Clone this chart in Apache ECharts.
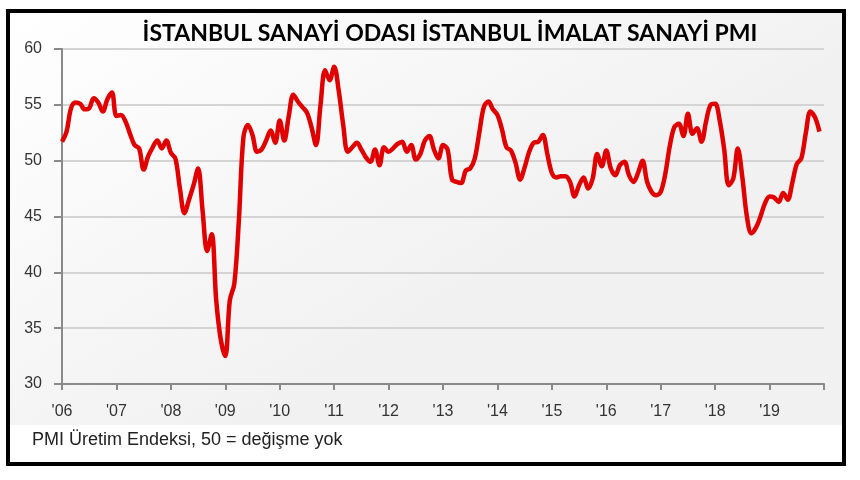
<!DOCTYPE html>
<html>
<head>
<meta charset="utf-8">
<script src="https://cdn.jsdelivr.net/npm/echarts@6/dist/echarts.min.js"></script>
<style>
  html, body { margin: 0; padding: 0; background: #fff; }
  #chart { width: 860px; height: 480px; }
</style>
</head>
<body>
<div id="chart"></div>
<script>
// Değerler (aylık, Ocak 2006 - Aralık 2019)
var yillar = ["'06", "'07", "'08", "'09", "'10", "'11", "'12", "'13", "'14", "'15", "'16", "'17", "'18", "'19"];

var pmi2006 = [51.7, 52.6, 54.7, 55.2, 55.1, 54.6, 54.7, 55.6, 55.2, 54.4, 55.5, 56.1];
var pmi2007 = [54.0, 54.1, 53.5, 52.4, 51.4, 51.1, 49.2, 50.4, 51.2, 51.8, 51.1, 51.8];
var pmi2008 = [50.7, 50.2, 47.5, 45.3, 46.5, 47.8, 49.3, 45.5, 41.9, 43.4, 37.5, 34.0];
var pmi2009 = [32.5, 37.5, 39.0, 44.7, 52.1, 53.2, 52.3, 50.8, 51.0, 51.8, 52.7, 51.6];
var pmi2010 = [53.6, 51.8, 54.0, 55.9, 55.3, 54.8, 54.3, 53.0, 51.4, 55.0, 58.1, 57.2];
var pmi2011 = [58.4, 56.3, 53.2, 50.8, 51.2, 51.6, 51.0, 50.3, 49.9, 51.0, 49.6, 51.2];
var pmi2012 = [50.8, 51.1, 51.5, 51.7, 50.8, 51.4, 50.1, 50.6, 51.8, 52.2, 51.0, 50.2];
var pmi2013 = [51.4, 51.0, 48.3, 48.1, 48.0, 49.1, 49.3, 50.2, 52.5, 54.8, 55.3, 54.6];
var pmi2014 = [54.1, 52.8, 51.2, 50.9, 49.8, 48.3, 49.4, 50.8, 51.6, 51.7, 52.3, 50.6];
var pmi2015 = [48.9, 48.5, 48.6, 48.6, 48.1, 46.8, 47.8, 48.5, 47.5, 48.4, 50.6, 49.5];
var pmi2016 = [50.9, 49.3, 48.7, 49.6, 49.9, 48.7, 48.1, 48.9, 50.0, 48.1, 47.2, 46.9];
var pmi2017 = [47.2, 48.8, 51.3, 53.0, 53.3, 52.2, 54.2, 52.4, 52.9, 51.7, 53.5, 55.0];
var pmi2018 = [55.1, 53.6, 51.0, 47.8, 48.4, 51.1, 48.5, 45.0, 43.5, 44.0, 45.0, 46.2];
var pmi2019 = [46.8, 46.7, 46.3, 47.1, 46.5, 48.0, 49.7, 50.2, 52.5, 54.4, 53.9, 52.6];

var yTicks = [30, 35, 40, 45, 50, 55, 60];

var baslik = 'İSTANBUL SANAYİ ODASI İSTANBUL İMALAT SANAYİ PMI';
var dipnot = 'PMI Üretim Endeksi, 50 = değişme yok';

// seriyi birleştir
var pmi = [].concat(pmi2006, pmi2007, pmi2008, pmi2009, pmi2010, pmi2011, pmi2012,
  pmi2013, pmi2014, pmi2015, pmi2016, pmi2017, pmi2018, pmi2019);

// kategori: her ay bir nokta, sonda Ocak 2020 (etiketsiz) için bir boşluk
var aylar = [];
for (var i = 0; i <= pmi.length; i++) {
  aylar.push(i % 12 === 0 ? (yillar[i / 12] || '') : '');
}

var myChart = echarts.init(document.getElementById('chart'));

var option = {
  animation: false,
  backgroundColor: '#ffffff',
  title: {
    text: baslik,
    left: 445,
    textAlign: 'center',
    top: 17,
    textStyle: {
      fontFamily: 'Lato',
      fontWeight: 'bold',
      fontSize: 23,
      color: '#000'
    }
  },
  graphic: [
    {
      type: 'rect',
      z: -10,
      shape: { x: 9, y: 13, width: 834, height: 412 },
      style: {
        fill: new echarts.graphic.LinearGradient(0, 0, 0.3, 1, [
          { offset: 0, color: '#ffffff' },
          { offset: 1, color: '#f1f1f1' }
        ])
      }
    },
    {
      type: 'text',
      left: 32,
      top: 431,
      style: {
        text: dipnot,
        fontFamily: 'Liberation Sans',
        fontSize: 18,
        fill: '#222'
      }
    },
    {
      type: 'rect',
      z: 100,
      shape: { x: 8, y: 11, width: 836, height: 453 },
      style: { fill: 'none', stroke: '#000', lineWidth: 4 }
    }
  ],
  grid: {
    left: 62,
    right: 36,
    top: 49,
    bottom: 96
  },
  xAxis: {
    type: 'category',
    data: aylar,
    boundaryGap: false,
    axisLine: { lineStyle: { color: '#8a8a8a', width: 2 } },
    axisTick: {
      show: true,
      interval: 11,
      length: 6,
      lineStyle: { color: '#8a8a8a', width: 2 }
    },
    axisLabel: {
      interval: 0,
      margin: 20,
      fontFamily: 'Liberation Sans',
      fontSize: 16,
      color: '#333'
    },
    splitLine: { show: false }
  },
  yAxis: {
    type: 'value',
    min: 30,
    max: 60,
    interval: 5,
    axisLine: { show: true, lineStyle: { color: '#8a8a8a', width: 2 } },
    axisTick: { show: true, length: 8, lineStyle: { color: '#8a8a8a', width: 2 } },
    axisLabel: {
      margin: 20,
      fontFamily: 'Liberation Sans',
      fontSize: 16,
      color: '#333',
      formatter: function (v) { return yTicks.indexOf(v) >= 0 ? String(v) : ''; }
    },
    splitLine: { lineStyle: { color: '#d4d4d4', width: 2 } }
  },
  series: [
    {
      name: 'PMI',
      type: 'line',
      data: pmi,
      smooth: 0.35,
      showSymbol: false,
      lineStyle: { color: '#e00000', width: 4.5 }
    }
  ]
};

myChart.setOption(option);
</script>
</body>
</html>
